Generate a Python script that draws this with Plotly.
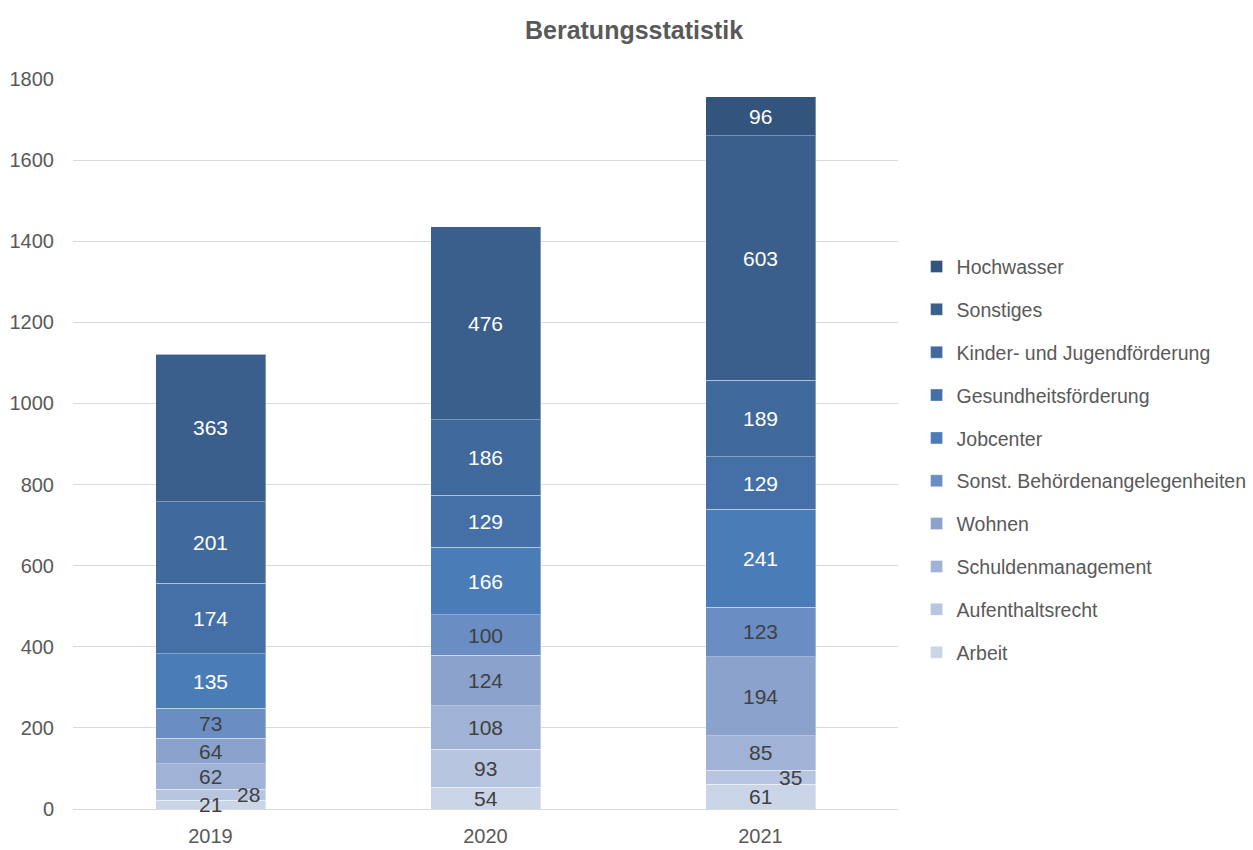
import plotly.graph_objects as go

years = ["2019", "2020", "2021"]

# Stacked counts per topic, bottom to top
categories = [
    "Arbeit",
    "Aufenthaltsrecht",
    "Schuldenmanagement",
    "Wohnen",
    "Sonst. Behördenangelegenheiten",
    "Jobcenter",
    "Gesundheitsförderung",
    "Kinder- und Jugendförderung",
    "Sonstiges",
    "Hochwasser",
]
arbeit = [21, 54, 61]
aufenthaltsrecht = [28, 93, 35]
schuldenmanagement = [62, 108, 85]
wohnen = [64, 124, 194]
sonst_behoerden = [73, 100, 123]
jobcenter = [135, 166, 241]
gesundheit = [174, 129, 129]
kinder_jugend = [201, 186, 189]
sonstiges = [363, 476, 603]
hochwasser = [None, None, 96]

series = [arbeit, aufenthaltsrecht, schuldenmanagement, wohnen, sonst_behoerden,
          jobcenter, gesundheit, kinder_jugend, sonstiges, hochwasser]

colors = ["#CBD5E8", "#B8C5E0", "#A0B3D6", "#8BA3CC", "#6A8EC4",
          "#4A7DB8", "#4470A7", "#40699C", "#3B5F8D", "#33557D"]
label_colors = ["#404040"] * 5 + ["#FFFFFF"] * 5

# horizontal nudges for labels of thin segments (px)
label_xshift = {("Aufenthaltsrecht", "2019"): 38, ("Aufenthaltsrecht", "2021"): 30}

font_family = "Liberation Sans Narrow, Arial Narrow, Liberation Sans, Arial, sans-serif"

fig = go.Figure()
n = len(categories)
for i, (name, vals) in enumerate(zip(categories, series)):
    fig.add_trace(go.Bar(
        x=years, y=[v if v is not None else 0 for v in vals], name=name,
        marker=dict(color=colors[i], line=dict(color="rgba(255,255,255,0.35)", width=1)),
        legendgroup=name, legendrank=100 * (n - i), hoverinfo="x+y+name",
    ))

# value labels centred in each segment (x given as category index)
base = [0, 0, 0]
annotations = []
for i, (name, vals) in enumerate(zip(categories, series)):
    for j, yr in enumerate(years):
        v = vals[j]
        if v is None:
            continue
        annotations.append(dict(
            x=j, y=base[j] + v / 2, text=str(v), showarrow=False,
            xshift=label_xshift.get((name, yr), 0),
            font=dict(family=font_family, size=21, color=label_colors[i]),
        ))
        base[j] += v

fig.update_layout(
    width=1253, height=850,
    margin=dict(l=73, r=355, t=79, b=41, autoexpand=False),
    paper_bgcolor="white", plot_bgcolor="white",
    barmode="stack", bargap=0.6,
    title=dict(text="<b>Beratungsstatistik</b>", x=0.506, xref="container",
               y=0.965, yref="container", yanchor="middle",
               font=dict(family="Liberation Sans, Arial, sans-serif", size=25, color="#595959")),
    font=dict(family=font_family, color="#595959", size=20),
    xaxis=dict(type="category", range=[-0.5, 2.5], showgrid=False, showline=True,
               linecolor="#D9D9D9", linewidth=1, ticklabelstandoff=9,
               tickfont=dict(size=20, color="#595959"), ticks=""),
    yaxis=dict(range=[0, 1800], dtick=200, showgrid=True, gridcolor="#D9D9D9",
               gridwidth=1, zeroline=False, ticks="",
               tickfont=dict(size=20, color="#595959"), ticklabelstandoff=18),
    legend=dict(x=1.0225, xanchor="left", y=0.479, yanchor="middle",
                traceorder="grouped", tracegroupgap=14.5,
                font=dict(size=19.5, color="#595959"), itemwidth=30),
    annotations=annotations,
    showlegend=True,
)

fig.write_html("out.html")
